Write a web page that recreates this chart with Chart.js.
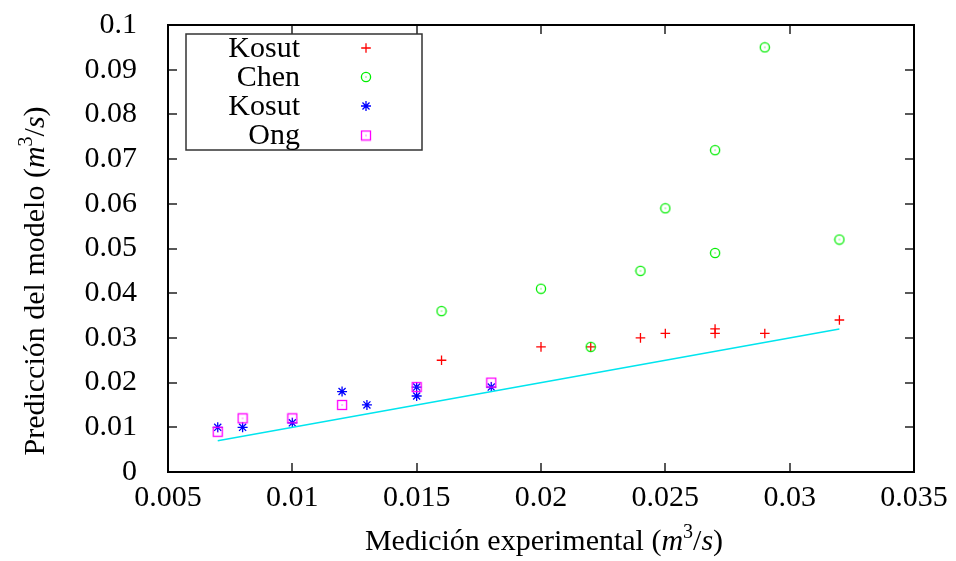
<!DOCTYPE html>
<html>
<head>
<meta charset="utf-8">
<script src="https://cdn.jsdelivr.net/npm/chart.js@4/dist/chart.umd.min.js"></script>
<style>
  html, body { margin: 0; background: #fff; }
  #wrap { width: 956px; height: 561px; }
</style>
</head>
<body>
<div id="wrap"><canvas id="chart"></canvas></div>
<script>
// ── Data ──────────────────────────────────────────────────────────
const kosutX = [0.016, 0.020, 0.022, 0.024, 0.025, 0.027, 0.027, 0.029, 0.032]
const kosutY = [0.025, 0.028, 0.028, 0.030, 0.031, 0.032, 0.031, 0.031, 0.034]

const chenX = [0.016, 0.020, 0.022, 0.024, 0.025, 0.027, 0.027, 0.029, 0.032]
const chenY = [0.036, 0.041, 0.028, 0.045, 0.059, 0.072, 0.049, 0.095, 0.052]

const kosut2X = [0.007, 0.008, 0.010, 0.012, 0.013, 0.015, 0.015, 0.018]
const kosut2Y = [0.010, 0.010, 0.011, 0.018, 0.015, 0.019, 0.017, 0.019]

const ongX = [0.007, 0.008, 0.010, 0.012, 0.015, 0.018]
const ongY = [0.009, 0.012, 0.012, 0.015, 0.019, 0.020]

const idealX = [0.007, 0.032]
const idealY = [0.007, 0.032]

const xTicks  = [0.005, 0.01, 0.015, 0.02, 0.025, 0.03, 0.035]
const xLabels = ["0.005", "0.01", "0.015", "0.02", "0.025", "0.03", "0.035"]
const yTicks  = [0, 0.01, 0.02, 0.03, 0.04, 0.05, 0.06, 0.07, 0.08, 0.09, 0.1]
const yLabels = ["0", "0.01", "0.02", "0.03", "0.04", "0.05", "0.06", "0.07", "0.08", "0.09", "0.1"]

const legendNames = ["Kosut", "Chen", "Kosut", "Ong"]

const pts = (xs, ys) => xs.map((x, i) => ({ x, y: ys[i] }))

const FONT = '"Liberation Serif", "Times New Roman", serif'
const FS = 30

// ── Marker images (circle / square with a centre dot) ─────────────
function marker(kind, color) {
  const c = document.createElement("canvas")
  c.width = 12; c.height = 12
  const g = c.getContext("2d")
  g.strokeStyle = color
  g.fillStyle = color
  g.lineWidth = 1.3
  if (kind === "circle") {
    g.beginPath(); g.arc(6, 6, 4.6, 0, Math.PI * 2); g.stroke()
  } else {
    g.strokeRect(1.5, 1.5, 9, 9)
  }
  g.fillRect(5.5, 5.5, 1, 1)
  return c
}

const circleDot = marker("circle", "#00ee00")
const squareDot = marker("square", "#ff00ff")

// ── Frame, inward ticks, titles, legend ───────────────────────────
function richText(ctx, parts, x, y, align) {
  const fontOf = p => `${p.italic ? "italic " : ""}${p.sup ? 20 : FS}px ${FONT}`
  let w = 0
  parts.forEach(p => { ctx.font = fontOf(p); w += ctx.measureText(p.t).width })
  let cx = align === "center" ? x - w / 2 : x
  ctx.textAlign = "left"
  ctx.textBaseline = "alphabetic"
  parts.forEach(p => {
    ctx.font = fontOf(p)
    ctx.fillText(p.t, cx, p.sup ? y - 12 : y)
    cx += ctx.measureText(p.t).width
  })
}

const unit = [
  { t: "(" }, { t: "m", italic: true }, { t: "3", sup: true },
  { t: "/" }, { t: "s", italic: true }, { t: ")" }
]

const decor = {
  id: "decor",
  afterDraw(chart) {
    const { ctx, chartArea: a, scales: { x, y } } = chart
    ctx.save()
    ctx.strokeStyle = "#222"
    ctx.lineWidth = 1.5
    ctx.beginPath()
    xTicks.forEach(v => {
      const px = Math.round(x.getPixelForValue(v))
      ctx.moveTo(px, a.bottom); ctx.lineTo(px, a.bottom - 9)
      ctx.moveTo(px, a.top); ctx.lineTo(px, a.top + 9)
    })
    yTicks.forEach(v => {
      const py = Math.round(y.getPixelForValue(v))
      ctx.moveTo(a.left, py); ctx.lineTo(a.left + 9, py)
      ctx.moveTo(a.right, py); ctx.lineTo(a.right - 9, py)
    })
    ctx.stroke()

    ctx.strokeStyle = "#000"
    ctx.lineWidth = 2
    ctx.strokeRect(a.left, a.top, a.right - a.left, a.bottom - a.top)

    // axis titles
    ctx.fillStyle = "#000"
    richText(ctx, [{ t: "Medición experimental " }, ...unit], 544, 550, "center")
    ctx.translate(44, 281)
    ctx.rotate(-Math.PI / 2)
    richText(ctx, [{ t: "Predicción del modelo " }, ...unit], 0, 0, "center")
    ctx.restore()

    // legend
    ctx.save()
    ctx.fillStyle = "#fff"
    ctx.fillRect(186, 34, 236, 116)
    ctx.strokeStyle = "#333"
    ctx.lineWidth = 1.5
    ctx.strokeRect(186, 34, 236, 116)
    ctx.fillStyle = "#000"
    ctx.font = `${FS}px ${FONT}`
    ctx.textAlign = "right"
    ctx.textBaseline = "middle"
    const rows = [48, 77, 106, 135.5]
    legendNames.forEach((name, i) => {
      ctx.fillText(name, 300, rows[i] + 1)
      const ds = chart.data.datasets[i]
      ctx.strokeStyle = ds.borderColor
      ctx.lineWidth = ds.borderWidth
      Chart.helpers.drawPoint(ctx, {
        pointStyle: ds.pointStyle, radius: ds.pointRadius, rotation: 0, borderWidth: ds.borderWidth
      }, 366, rows[i])
    })
    ctx.restore()
  }
}

// ── Chart ─────────────────────────────────────────────────────────
Chart.defaults.font.family = FONT
Chart.defaults.color = "#000"

const tickFont = { family: FONT, size: FS }

new Chart(document.getElementById("chart"), {
  type: "scatter",
  data: {
    datasets: [
      { label: "Kosut", data: pts(kosutX, kosutY), pointStyle: "cross", pointRadius: 4.8,
        borderColor: "#ff0000", backgroundColor: "#ff0000", borderWidth: 1.3, order: 5 },
      { label: "Chen", data: pts(chenX, chenY), pointStyle: circleDot, pointRadius: 5,
        borderColor: "#00ee00", backgroundColor: "#00ee00", borderWidth: 1.3, order: 4 },
      { label: "Kosut", data: pts(kosut2X, kosut2Y), pointStyle: "star", pointRadius: 5,
        borderColor: "#0000ff", backgroundColor: "#0000ff", borderWidth: 1.3, order: 3 },
      { label: "Ong", data: pts(ongX, ongY), pointStyle: squareDot, pointRadius: 5,
        borderColor: "#ff00ff", backgroundColor: "#ff00ff", borderWidth: 1.3, order: 2 },
      { label: "ideal", data: pts(idealX, idealY), showLine: true, pointRadius: 0,
        borderColor: "#00e5ee", borderWidth: 1.5, order: 1 }
    ]
  },
  options: {
    responsive: true,
    maintainAspectRatio: false,
    animation: false,
    layout: { padding: { left: 0, right: 42, top: 25, bottom: 0 } },
    plugins: { legend: { display: false }, tooltip: { enabled: false } },
    scales: {
      x: {
        type: "linear", min: 0.005, max: 0.035,
        afterBuildTicks: s => { s.ticks = xTicks.map(v => ({ value: v })) },
        afterFit: s => { s.height = 89; s.paddingLeft = 0; s.paddingRight = 0 },
        ticks: { callback: (v, i) => xLabels[i], font: tickFont, padding: 8, maxRotation: 0 },
        grid: { display: false, drawTicks: false },
        border: { display: false }
      },
      y: {
        type: "linear", min: 0, max: 0.1,
        afterBuildTicks: s => { s.ticks = yTicks.map(v => ({ value: v })) },
        afterFit: s => { s.width = 168; s.paddingTop = 0; s.paddingBottom = 0 },
        ticks: { callback: (v, i) => yLabels[i], font: tickFont, padding: 31 },
        grid: { display: false, drawTicks: false },
        border: { display: false }
      }
    }
  },
  plugins: [decor]
})
</script>
</body>
</html>
